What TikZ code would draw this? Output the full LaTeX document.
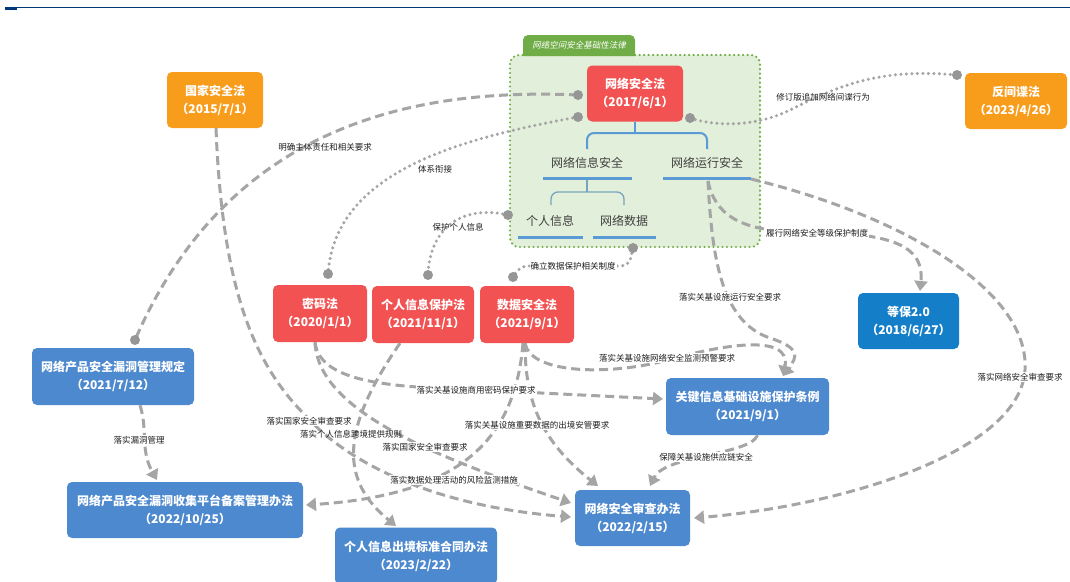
\documentclass[tikz,border=0pt]{standalone}
\usepackage{fontspec}
\setmainfont{Noto Sans CJK SC}
\newfontfamily\cjkslant[FakeSlant=0.2]{Noto Sans CJK SC}
\usetikzlibrary{arrows.meta}
\definecolor{lawred}{RGB}{242,82,82}
\definecolor{laworange}{RGB}{248,156,28}
\definecolor{lawblue}{RGB}{20,126,201}
\definecolor{boxblue}{RGB}{77,137,206}
\definecolor{grpfill}{RGB}{226,239,218}
\definecolor{grpgreen}{RGB}{112,173,71}
\definecolor{linegray}{RGB}{165,165,165}
\definecolor{dotgray}{RGB}{150,150,150}
\definecolor{brblue}{RGB}{91,155,213}
\definecolor{brteal}{RGB}{120,165,190}
\definecolor{labelgray}{RGB}{30,30,30}
\definecolor{subgray}{RGB}{64,64,64}
\definecolor{navy}{RGB}{0,56,120}
\tikzset{
  law/.style={rounded corners=5pt, minimum height=56pt, inner sep=0pt, align=center, text=white,
    font=\bfseries\fontsize{12}{18}\selectfont},
  redlaw/.style={law, fill=lawred},
  orangelaw/.style={law, fill=laworange},
  bluelaw/.style={law, fill=boxblue},
  deeplaw/.style={law, fill=lawblue},
  lbl/.style={font=\fontsize{8.5}{10}\selectfont, text=labelgray, fill=white, inner sep=1pt},
  sub/.style={font=\fontsize{12}{14}\selectfont, text=subgray, inner sep=1pt},
  dashline/.style={draw=linegray, line width=3pt, dash pattern=on 9pt off 5pt},
  dasharrow/.style={dashline, -{Triangle[length=10pt,width=13pt]}},
  dotline/.style={draw=linegray, line width=3.4pt, dash pattern=on 0pt off 5.5pt, line cap=round},
  enddot/.style={fill=dotgray},
  underbar/.style={draw=brblue, line width=3pt},
}
\begin{document}
\begin{tikzpicture}[x=1pt,y=-1pt]
\useasboundingbox (0,0) rectangle (1070,581);
\fill[white] (0,0) rectangle (1070,581);

% top rule
\draw[navy, line width=1.7pt] (5,7.5) -- (1070,7.5);
\fill[navy] (5,7) rectangle (17,10);

% group container
\draw[fill=grpfill, draw=grpgreen, line width=2.4pt, dash pattern=on 0pt off 4.5pt, line cap=round, rounded corners=9pt]
  (510,55) rectangle (760,247);
\fill[grpgreen, rounded corners=5pt] (523,56) -- (523,35) -- (635,35) -- (635,56);
\node[font=\cjkslant\fontsize{8.5}{10}\selectfont, text=white] (tab) at (579,45.5) {网络空间安全基础性法律};

% main law nodes
\node[redlaw, minimum width=96pt] (wlaq) at (635,93.5) {网络安全法\\（2017/6/1）};
\node[orangelaw, minimum width=96pt] (gjaq) at (215,100) {国家安全法\\（2015/7/1）};
\node[orangelaw, minimum width=102pt] (fjd) at (1016,101) {反间谍法\\（2023/4/26）};
\node[deeplaw, minimum width=101pt] (db) at (908.5,321) {等保2.0\\（2018/6/27）};
\node[redlaw, minimum width=94pt, minimum height=57pt] (mmf) at (320,313.5) {密码法\\（2020/1/1）};
\node[redlaw, minimum width=102pt, minimum height=57pt] (grxx) at (423,314.5) {个人信息保护法\\（2021/11/1）};
\node[redlaw, minimum width=94pt, minimum height=57pt] (sjaq) at (527,314.5) {数据安全法\\（2021/9/1）};
\node[bluelaw, minimum width=162pt, minimum height=57pt] (ldgl) at (113,376.5) {网络产品安全漏洞管理规定\\（2021/7/12）};
\node[bluelaw, minimum width=236pt] (ldsj) at (185,510) {网络产品安全漏洞收集平台备案管理办法\\（2022/10/25）};
\node[bluelaw, minimum width=162pt, minimum height=57pt] (grcj) at (416,556) {个人信息出境标准合同办法\\（2023/2/22）};
\node[bluelaw, minimum width=163pt, minimum height=57pt] (gjxx) at (747.5,406.5) {关键信息基础设施保护条例\\（2021/9/1）};
\node[bluelaw, minimum width=115pt] (wlsc) at (632.5,518) {网络安全审查办法\\（2022/2/15）};

% tree inside the group
\node[sub] (xxaq) at (587,163) {网络信息安全};
\node[sub] (yxaq) at (707,163) {网络运行安全};
\node[sub] (grinfo) at (550,221) {个人信息};
\node[sub] (wlsj) at (624,221) {网络数据};
\draw[underbar] (543,178) -- (632,178);
\draw[underbar] (663,178) -- (751,178);
\draw[underbar] (518,237) -- (583,237);
\draw[underbar] (593,237) -- (656,237);
\draw[brblue, line width=2pt] (wlaq.south) -- (635,133);
\draw[brblue, line width=2pt, rounded corners=7pt] (587,149) -- (587,133) -- (707,133) -- (707,149);
\draw[brteal, line width=1.3pt] (587,179.5) -- (587,192);
\draw[brteal, line width=1.3pt, rounded corners=7pt] (551,205) -- (551,192) -- (624,192) -- (624,205);

% named end points
\coordinate (d1) at (578,95);
\coordinate (d2) at (578,117);
\coordinate (d3) at (690,118);
\coordinate (d4) at (957,75);
\coordinate (d5) at (135,340);
\coordinate (d6) at (328,274);
\coordinate (d7) at (428,275);
\coordinate (d8) at (513,277);
\coordinate (d9) at (508,215);
\coordinate (d10) at (633,248);
\coordinate (yx) at (708,181);
\coordinate (yxR) at (751,179);
\coordinate (gjxxTop) at (783,376);
\coordinate (dbTop) at (920,291);
\coordinate (wlscW1) at (571,503);
\coordinate (wlscW2) at (571,517);
\coordinate (wlscN1) at (598,486);
\coordinate (wlscN2) at (650,486);
\coordinate (wlscE) at (694,518);
\coordinate (ldsjE) at (306,505);
\coordinate (ldsjN) at (157,480);
\coordinate (grcjN) at (396,526);
\coordinate (gjxxW) at (663,399);

% linking lines
\draw[dashline] (d1) .. controls (420,88) and (230,121) .. (d5);
\draw[dotline] (d2) .. controls (450,140) and (335,175) .. (d6);
\draw[dotline] (d9) .. controls (465,205) and (430,225) .. (d7);
\draw[dotline, rounded corners=8pt] (d10) -- (629,266) -- (520,266) -- (d8);
\draw[dotline] (d3) .. controls (720,128) and (760,125) .. (790,110) .. controls (840,85) and (880,68) .. (d4);
\foreach \p in {d1,d2,d3,d4,d5,d6,d7,d8,d9,d10} \fill[enddot] (\p) circle[radius=5pt];

% arrows from the tree
\draw[dasharrow] (yx) .. controls (715,215) and (740,229) .. (790,232) .. controls (880,232) and (925,240) .. (dbTop);
\draw[dasharrow] (yx) .. controls (712,260) and (722,322) .. (770,338) .. controls (800,348) and (798,356) .. (gjxxTop);
\draw[dasharrow] (yxR) .. controls (900,215) and (1030,290) .. (1025,370) .. controls (1020,450) and (850,505) .. (wlscE);

% arrows from the laws
\draw[dasharrow] ([xshift=1pt]gjaq.south) .. controls (222,280) and (250,360) .. (305,415) .. controls (340,455) and (420,505) .. (wlscW2);
\draw[dasharrow] ([xshift=-5pt]mmf.south) .. controls (320,385) and (400,387) .. (480,390) -- (gjxxW);
\draw[dasharrow] ([xshift=-5pt]mmf.south) .. controls (318,410) and (430,455) .. (wlscW1);
\draw[dasharrow] ([xshift=-23pt]grxx.south) .. controls (340,430) and (340,480) .. (grcjN);
\draw[dasharrow] ([xshift=-4pt]sjaq.south) .. controls (515,440) and (460,495) .. (ldsjE);
\draw[dasharrow] ([xshift=-2pt]sjaq.south) .. controls (525,400) and (540,440) .. (wlscN1);
\draw[dasharrow] ([xshift=-2pt]sjaq.south) .. controls (530,372) and (600,376) .. (660,362) .. controls (720,345) and (792,332) .. (gjxxTop);
\draw[dasharrow] ([xshift=10pt]gjxx.south) .. controls (750,455) and (665,455) .. (wlscN2);
\draw[dasharrow] ([xshift=27pt]ldgl.south) .. controls (148,430) and (140,450) .. (ldsjN);

% labels
\node[lbl, fill=none] (la) at (325,147) {明确主体责任和相关要求};
\node[lbl] (lb) at (435,169) {体系衔接};
\node[lbl, fill=none] (lc) at (458,227) {保护个人信息};
\node[lbl] (ld) at (573,266) {确立数据保护相关制度};
\node[lbl, fill=none] (le) at (823,97) {修订版追加网络间谍行为};
\node[lbl] (lf) at (817,233) {履行网络安全等级保护制度};
\node[lbl] (lg) at (730,297) {落实关基设施运行安全要求};
\node[lbl] (lh) at (667,358) {落实关基设施网络安全监测预警要求};
\node[lbl] (li) at (1020,377) {落实网络安全审查要求};
\node[lbl] (lj) at (476,390) {落实关基设施商用密码保护要求};
\node[lbl] (lk) at (537,425) {落实关基设施重要数据的出境安管要求};
\node[lbl] (ll) at (706,457) {保障关基设施供应链安全};
\node[lbl] (lm) at (309,421) {落实国家安全审查要求};
\node[lbl, fill=none] (ln) at (351,434) {落实个人信息跨境提供规则};
\node[lbl] (lo) at (425,447) {落实国家安全审查要求};
\node[lbl] (lp) at (454,480) {落实数据处理活动的风险监测措施};
\node[lbl] (lq) at (139,440) {落实漏洞管理};
\end{tikzpicture}
\end{document}
